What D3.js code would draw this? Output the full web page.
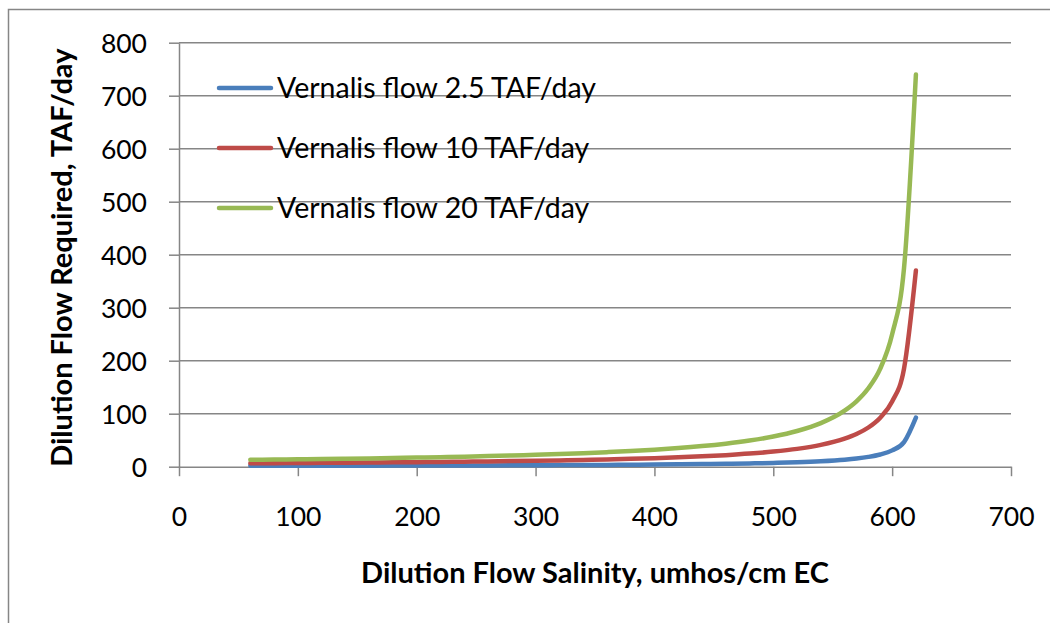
<!DOCTYPE html>
<html>
<head>
<meta charset="utf-8">
<script src="https://cdn.jsdelivr.net/npm/d3@7"></script>
<style>
  html, body { margin: 0; padding: 0; background: #ffffff; }
  svg { display: block; }
  text { font-family: Lato, "Open Sans", sans-serif; fill: #000; }
</style>
</head>
<body>
<svg id="chart" width="1050" height="623"></svg>
<script>
// ---- data ----
const salinity = [60, 80, 100, 120, 140, 160, 180, 200, 220, 240, 260, 280, 300, 320, 340, 360,
                  380, 400, 420, 440, 460, 480, 500, 520, 540, 560, 570, 580, 590, 600, 610, 620];
const flow2_5 = [1.6, 1.7, 1.75, 1.8, 1.9, 2.0, 2.05, 2.15, 2.25, 2.4, 2.5, 2.65, 2.8, 3.0, 3.2, 3.4,
                 3.7, 4.0, 4.4, 4.9, 5.4, 6.2, 7.1, 8.4, 10.3, 13.2, 15.4, 18.5, 23.1, 30.8, 46.3, 92.5];
const flow10 = [6.5, 6.7, 7.0, 7.3, 7.6, 7.9, 8.2, 8.6, 9.0, 9.5, 10.0, 10.6, 11.2, 11.9, 12.8, 13.7,
                14.8, 16.1, 17.6, 19.5, 21.8, 24.7, 28.5, 33.6, 41.1, 52.9, 61.7, 74, 92.5, 123, 185, 370];
const flow20 = [13.0, 13.5, 14.0, 14.5, 15.1, 15.7, 16.4, 17.2, 18.0, 19.0, 20.0, 21.1, 22.4, 23.9, 25.5, 27.4,
                29.6, 32.2, 35.2, 38.9, 43.5, 49.3, 56.9, 67.3, 82.2, 105.7, 123.3, 148, 185, 250, 375, 740];
const seriesNames = ["Vernalis flow 2.5 TAF/day", "Vernalis flow 10 TAF/day", "Vernalis flow 20 TAF/day"];
const seriesColors = ["#4a7ebb", "#be4b48", "#98b954"];
const xTicks = [0, 100, 200, 300, 400, 500, 600, 700];
const yTicks = [0, 100, 200, 300, 400, 500, 600, 700, 800];
const xTitle = "Dilution Flow Salinity, umhos/cm EC";
const yTitle = "Dilution Flow Required, TAF/day";

const seriesValues = [flow2_5, flow10, flow20];

// ---- layout ----
const svg = d3.select("#chart");
const plot = { left: 179, right: 1011, top: 42.7, bottom: 466.7 };
const axisColor = "#868686";

// outer chart border
svg.append("rect")
  .attr("x", 8.5).attr("y", 9.5)
  .attr("width", 1100).attr("height", 700)
  .attr("fill", "none").attr("stroke", axisColor).attr("stroke-width", 1.5);

const x = d3.scaleLinear().domain([0, 700]).range([plot.left, plot.right]);
const y = d3.scaleLinear().domain([0, 800]).range([plot.bottom, plot.top]);

// gridlines
svg.append("g").selectAll("line")
  .data(yTicks.filter(d => d > 0))
  .join("line")
  .attr("x1", plot.left).attr("x2", plot.right)
  .attr("y1", d => y(d)).attr("y2", d => y(d))
  .attr("stroke", axisColor).attr("stroke-width", 1.5);

// y axis
const yAxis = svg.append("g")
  .attr("transform", `translate(${plot.left},0)`)
  .call(d3.axisLeft(y).tickValues(yTicks).tickSize(10).tickPadding(22).tickSizeOuter(0));
yAxis.select(".domain").attr("stroke", axisColor).attr("stroke-width", 1.5);
yAxis.selectAll(".tick line").attr("stroke", axisColor).attr("stroke-width", 1.5);
yAxis.selectAll(".tick text")
  .attr("dy", "0.36em")
  .style("font-family", "Lato, sans-serif")
  .style("font-size", "26.5px")
  .attr("fill", "#000");

// x axis
const xAxis = svg.append("g")
  .attr("transform", `translate(0,${plot.bottom})`)
  .call(d3.axisBottom(x).tickValues(xTicks).tickSize(9.5).tickSizeOuter(0));
xAxis.select(".domain").attr("stroke", axisColor).attr("stroke-width", 1.5);
xAxis.selectAll(".tick line").attr("stroke", axisColor).attr("stroke-width", 1.5);
xAxis.selectAll(".tick text")
  .attr("y", 59).attr("dy", 0)
  .style("font-family", "Lato, sans-serif")
  .style("font-size", "26.5px")
  .attr("fill", "#000");

// lines
const line = d3.line()
  .x((d, i) => x(salinity[i]))
  .y(d => y(d))
  .curve(d3.curveMonotoneX);

svg.append("g").selectAll("path")
  .data(seriesValues)
  .join("path")
  .attr("d", d => line(d))
  .attr("fill", "none")
  .attr("stroke", (d, i) => seriesColors[i])
  .attr("stroke-width", 4.5)
  .attr("stroke-linecap", "round")
  .attr("stroke-linejoin", "round");

// legend
const legendY = [88, 148, 208];
const legend = svg.append("g");
seriesNames.forEach((name, i) => {
  legend.append("line")
    .attr("x1", 219).attr("x2", 271)
    .attr("y1", legendY[i]).attr("y2", legendY[i])
    .attr("stroke", seriesColors[i]).attr("stroke-width", 4.5)
    .attr("stroke-linecap", "round");
  legend.append("text")
    .attr("x", 277).attr("y", legendY[i] + 9.5)
    .style("font-size", "28.5px")
    .text(name);
});

// axis titles
svg.append("text")
  .attr("x", (plot.left + plot.right) / 2)
  .attr("y", 583)
  .attr("text-anchor", "middle")
  .style("font-weight", "bold")
  .style("font-size", "29px")
  .text(xTitle);

svg.append("text")
  .attr("transform", `translate(72,${(plot.top + plot.bottom) / 2 + 3}) rotate(-90)`)
  .attr("text-anchor", "middle")
  .style("font-weight", "bold")
  .style("font-size", "29px")
  .text(yTitle);
</script>
</body>
</html>
